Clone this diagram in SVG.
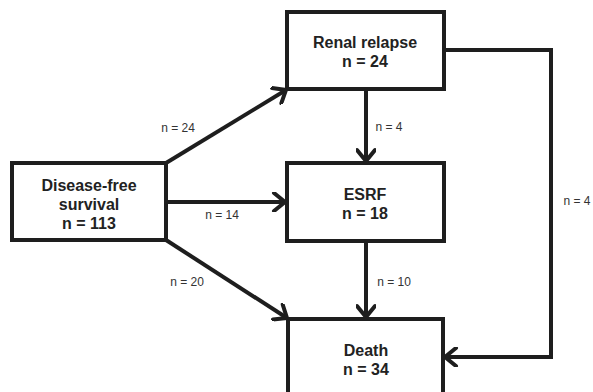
<svg xmlns="http://www.w3.org/2000/svg" width="593" height="392" viewBox="0 0 593 392">
<style>
.box{fill:#fff;stroke:#1e1e1e;stroke-width:4}
.t{font-family:"Liberation Sans",Arial,sans-serif;font-size:16px;font-weight:bold;fill:#222;text-anchor:middle}
.l{font-family:"Liberation Sans",Arial,sans-serif;font-size:12px;fill:#333;text-anchor:middle}
.c{fill:none;stroke:#1e1e1e;stroke-width:4;stroke-linejoin:miter}
</style>
<defs>
<marker id="ah" viewBox="0 0 20 20" refX="16" refY="10" markerWidth="20" markerHeight="20" markerUnits="userSpaceOnUse" orient="auto">
<path d="M5,1 L16,10 L5,19" fill="none" stroke="#1e1e1e" stroke-width="4" stroke-linecap="round" stroke-linejoin="miter"/>
</marker>
</defs>
<rect width="593" height="392" fill="#fff"/>
<g id="connectors">
<path class="c" d="M166,163 L286,90" marker-end="url(#ah)"/>
<path class="c" d="M166,202 L285,202" marker-end="url(#ah)"/>
<path class="c" d="M166,240 L287,318" marker-end="url(#ah)"/>
<path class="c" d="M366,89 L366,161" marker-end="url(#ah)"/>
<path class="c" d="M366,241 L366,317" marker-end="url(#ah)"/>
<path class="c" d="M444,50 L551,50 L551,357 L445,357" marker-end="url(#ah)"/>
<text class="l" x="178" y="132">n = 24</text>
<text class="l" x="222" y="219">n = 14</text>
<text class="l" x="187" y="286">n = 20</text>
<text class="l" x="389" y="131">n = 4</text>
<text class="l" x="394" y="286">n = 10</text>
<text class="l" x="577" y="205">n = 4</text>
</g>
<g id="disease-free">
<rect class="box" x="12" y="163" width="154" height="77"/>
<text class="t" x="89" y="191">Disease-free</text>
<text class="t" x="89" y="210">survival</text>
<text class="t" x="89" y="229">n = 113</text>
</g>
<g id="renal-relapse">
<rect class="box" x="287" y="12" width="157" height="77"/>
<text class="t" x="365" y="48">Renal relapse</text>
<text class="t" x="365" y="67">n = 24</text>
</g>
<g id="esrf">
<rect class="box" x="287" y="163" width="157" height="78"/>
<text class="t" x="365" y="200">ESRF</text>
<text class="t" x="365" y="219">n = 18</text>
</g>
<g id="death">
<rect class="box" x="288" y="319" width="155" height="90"/>
<text class="t" x="366" y="356">Death</text>
<text class="t" x="366" y="375">n = 34</text>
</g>
</svg>
